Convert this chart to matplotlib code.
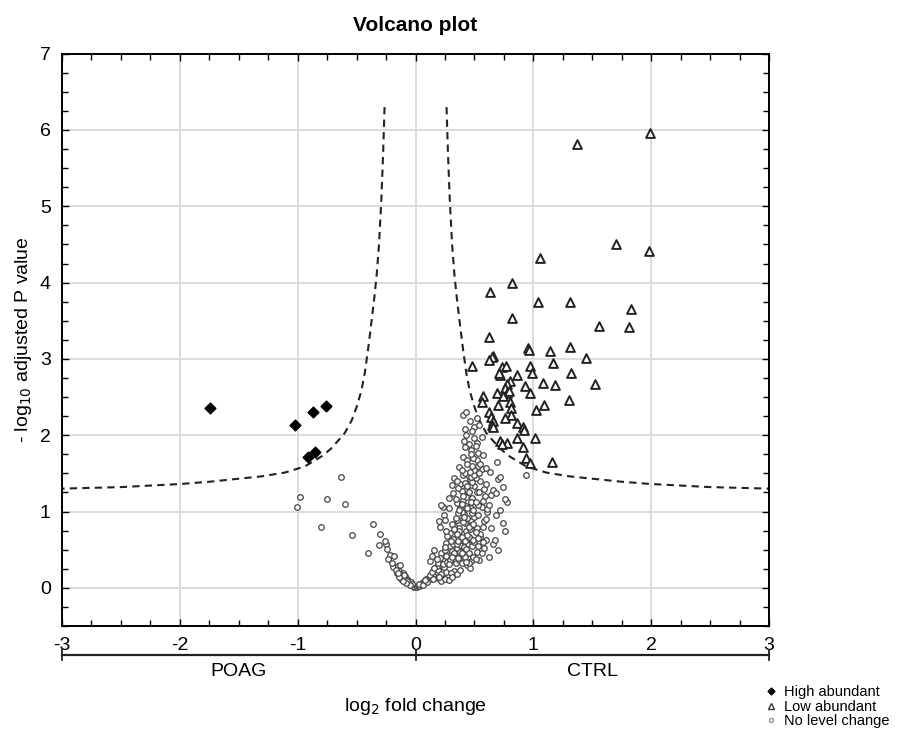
import numpy as np
import matplotlib.pyplot as plt
from matplotlib.lines import Line2D
import matplotlib.transforms as mtransforms

plt.rcParams['font.family'] = ['Liberation Sans', 'DejaVu Sans']
plt.rcParams['axes.unicode_minus'] = False

# High abundant (POAG side), log2 fold change / -log10 adjusted p
high_fc = [-1.74, -1.02, -0.87, -0.76, -0.85, -0.91]
high_p = [2.35, 2.14, 2.30, 2.38, 1.78, 1.71]

# Low abundant (CTRL side)
low_fc = [1.99, 1.37, 1.70, 1.98, 1.06, 0.82, 0.63, 1.04, 1.31, 1.83,
          0.82, 1.56, 1.81, 0.62, 0.95, 0.96, 1.14, 1.31, 0.66, 0.65,
          0.62, 1.45, 0.48, 0.73, 0.77, 0.97, 1.17, 0.72, 0.86, 0.99,
          1.32, 0.80, 0.78, 0.93, 1.08, 1.18, 1.52, 0.76, 0.69, 0.78,
          0.97, 0.74, 0.57, 0.56, 0.80, 0.70, 0.81, 1.02, 1.09, 1.30,
          0.62, 0.81, 0.76, 0.64, 0.66, 0.65, 0.66, 0.86, 0.91, 0.92,
          1.01, 0.86, 0.91, 0.78, 0.72, 0.73, 0.94, 0.97, 1.16, 0.71,
          0.79]
low_p = [5.96, 5.82, 4.50, 4.41, 4.32, 4.00, 3.88, 3.74, 3.75, 3.66,
         3.53, 3.43, 3.42, 3.29, 3.14, 3.12, 3.11, 3.16, 3.04, 3.02,
         2.98, 3.01, 2.91, 2.90, 2.91, 2.91, 2.95, 2.79, 2.79, 2.81,
         2.81, 2.71, 2.67, 2.65, 2.69, 2.66, 2.67, 2.62, 2.55, 2.55,
         2.55, 2.51, 2.51, 2.43, 2.43, 2.40, 2.36, 2.33, 2.39, 2.46,
         2.31, 2.27, 2.22, 2.24, 2.18, 2.14, 2.11, 2.16, 2.11, 2.07,
         1.96, 1.96, 1.85, 1.90, 1.92, 1.89, 1.70, 1.64, 1.65, 2.82,
         2.58]

# No level change
nc_fc = [-0.63, -0.98, -1.01, -0.75, -0.60, -0.80, -0.36, -0.54, -0.30, -0.31,
         -0.40, -0.25, -0.24, -0.22, -0.18, -0.23, -0.19, -0.15, -0.13, -0.16,
         -0.14, -0.12, -0.11, -0.10, -0.09, -0.08, -0.07, -0.06, -0.05, -0.04,
         -0.03, -0.02, -0.01, -0.12, -0.09, -0.06, -0.17, -0.13, -0.10, -0.04,
         -0.02, -0.03, -0.05, -0.07, -0.08, -0.11, -0.14, -0.15, -0.20, -0.26,
         0.01, 0.02, 0.03, 0.04, 0.05, 0.06, 0.07, 0.08, 0.09, 0.10,
         0.11, 0.12, 0.13, 0.14, 0.15, 0.16, 0.17, 0.18, 0.19, 0.20,
         0.03, 0.06, 0.09, 0.12, 0.14, 0.17, 0.21, 0.23, 0.25, 0.27,
         0.33, 0.44, 0.46, 0.26, 0.30, 0.10, 0.15, 0.19, 0.22, 0.08,
         0.22, 0.25, 0.28, 0.31, 0.35, 0.38, 0.24, 0.20, 0.18, 0.16,
         0.19, 0.22, 0.24, 0.26, 0.28, 0.21, 0.25, 0.30, 0.33, 0.35,
         0.23, 0.27, 0.29, 0.31, 0.32, 0.36, 0.38, 0.40, 0.34, 0.37,
         0.52, 0.56, 0.42, 0.44, 0.47, 0.39, 0.41, 0.29, 0.33, 0.26,
         0.31, 0.35, 0.38, 0.43, 0.48, 0.25, 0.28, 0.36, 0.45, 0.50,
         0.12, 0.14, 0.16, 0.18, 0.58, 0.62, 0.66, 0.70, 0.54, 0.60,
         0.45, 0.49, 0.53, 0.57, 0.41, 0.39, 0.43, 0.47, 0.51, 0.55,
         0.29, 0.35, 0.32, 0.37, 0.40, 0.42, 0.45, 0.38, 0.33, 0.30,
         0.36, 0.43, 0.47, 0.49, 0.52, 0.41, 0.44, 0.39, 0.34, 0.31,
         0.67, 0.76, 0.61, 0.55, 0.58, 0.50, 0.46, 0.53, 0.48, 0.27,
         0.40, 0.37, 0.42, 0.44, 0.35, 0.47, 0.39, 0.51, 0.57, 0.20,
         0.21, 0.24, 0.26, 0.28, 0.60, 0.64, 0.68, 0.72, 0.74, 0.56,
         0.33, 0.38, 0.41, 0.45, 0.49, 0.53, 0.36, 0.43, 0.47, 0.25,
         0.37, 0.40, 0.43, 0.46, 0.23, 0.32, 0.22, 0.35, 0.38, 0.41,
         0.44, 0.48, 0.50, 0.53, 0.45, 0.42, 0.39, 0.47, 0.52, 0.55,
         0.78, 0.76, 0.70, 0.72, 0.94, 0.61, 0.58, 0.64, 0.57, 0.60,
         0.36, 0.49, 0.43, 0.51, 0.34, 0.54, 0.40, 0.46, 0.62, 0.66,
         0.28, 0.31, 0.33, 0.63, 0.68, 0.74, 0.56, 0.59, 0.39, 0.42,
         0.45, 0.48, 0.51, 0.37, 0.40, 0.44, 0.47, 0.53, 0.50, 0.35,
         0.50, 0.52, 0.39, 0.40, 0.44, 0.43, 0.52, 0.69, 0.47, 0.55,
         0.48, 0.45, 0.53, 0.42, 0.50, 0.46, 0.57, 0.49, 0.41, 0.51,
         0.60, 0.44, 0.56, 0.47, 0.54,
         0.50, 0.54, 0.46, 0.40, 0.43, 0.48, 0.52, 0.42]
nc_p = [1.45, 1.19, 1.06, 1.16, 1.10, 0.80, 0.83, 0.69, 0.70, 0.56,
        0.46, 0.57, 0.51, 0.43, 0.42, 0.38, 0.27, 0.29, 0.30, 0.19,
        0.22, 0.16, 0.20, 0.13, 0.15, 0.10, 0.12, 0.08, 0.06, 0.05,
        0.04, 0.03, 0.01, 0.12, 0.11, 0.09, 0.24, 0.18, 0.17, 0.07,
        0.02, 0.05, 0.04, 0.09, 0.06, 0.09, 0.14, 0.20, 0.33, 0.61,
        0.01, 0.03, 0.02, 0.05, 0.04, 0.07, 0.06, 0.09, 0.08, 0.11,
        0.13, 0.12, 0.16, 0.15, 0.19, 0.18, 0.22, 0.21, 0.13, 0.25,
        0.05, 0.04, 0.12, 0.17, 0.21, 0.26, 0.29, 0.22, 0.15, 0.15,
        0.22, 0.30, 0.26, 0.21, 0.19, 0.07, 0.11, 0.23, 0.18, 0.10,
        0.09, 0.12, 0.10, 0.14, 0.18, 0.24, 0.27, 0.14, 0.28, 0.26,
        0.33, 0.46, 0.36, 0.59, 0.41, 0.39, 0.50, 0.44, 0.38, 0.52,
        0.31, 0.34, 0.55, 0.48, 0.58, 0.43, 0.56, 0.49, 0.32, 0.36,
        0.47, 0.45, 0.40, 0.57, 0.35, 0.33, 0.53, 0.37, 0.46, 0.42,
        0.40, 0.58, 0.47, 0.51, 0.55, 0.54, 0.31, 0.39, 0.33, 0.60,
        0.35, 0.42, 0.50, 0.38, 0.52, 0.41, 0.58, 0.49, 0.36, 0.63,
        0.45, 0.41, 0.55, 0.60, 0.62, 0.45, 0.34, 0.64, 0.38, 0.67,
        0.72, 0.89, 0.64, 0.78, 0.70, 0.85, 0.67, 0.95, 0.81, 0.62,
        0.61, 0.74, 0.88, 0.63, 0.79, 0.97, 0.69, 0.66, 0.92, 0.83,
        0.63, 0.74, 0.99, 0.71, 0.87, 0.93, 0.77, 0.65, 0.98, 0.68,
        0.86, 0.75, 0.62, 0.91, 0.71, 0.82, 0.99, 0.73, 0.80, 0.87,
        0.80, 0.95, 0.74, 1.05, 0.90, 0.78, 0.96, 1.02, 0.85, 1.06,
        0.77, 1.05, 0.93, 0.80, 0.84, 0.96, 0.98, 1.07, 1.04, 0.89,
        1.02, 1.15, 1.29, 1.42, 1.06, 1.24, 1.08, 1.11, 1.36, 1.21,
        1.05, 1.18, 1.33, 1.09, 1.47, 1.38, 1.27, 1.12, 1.25, 1.40,
        1.13, 1.17, 1.42, 1.45, 1.48, 1.03, 1.30, 1.22, 1.14, 1.36,
        1.31, 1.02, 1.19, 1.44, 1.16, 1.26, 1.48, 1.35, 1.08, 1.28,
        1.18, 1.35, 1.44, 1.52, 1.24, 1.32, 1.56, 1.20, 1.10, 1.50,
        1.26, 1.39, 1.13, 1.58, 1.20, 1.33, 1.45, 1.60, 1.48, 1.40,
        1.55, 1.68, 1.55, 1.72, 1.68, 2.00, 1.90, 1.65, 1.81, 1.62,
        1.59, 1.88, 1.77, 1.84, 1.96, 1.52, 1.74, 1.70, 1.93, 1.86,
        1.57, 1.62, 1.98, 1.76, 1.51,
        2.11, 2.14, 2.18, 2.27, 2.31, 2.05, 2.22, 2.08]

# significance boundary (right arm, mirrored for the left)
bound_fc = [0.263, 0.275, 0.29, 0.31, 0.33, 0.35, 0.373, 0.40, 0.43, 0.46,
            0.50, 0.54, 0.60, 0.65, 0.72, 0.80, 0.94, 1.11, 1.31, 1.50,
            1.75, 2.00, 2.25, 2.50, 2.75, 3.00]
bound_p = [6.30, 5.70, 5.10, 4.50, 4.10, 3.80, 3.50, 3.16, 2.82, 2.58,
           2.37, 2.20, 2.03, 1.94, 1.82, 1.72, 1.59, 1.51, 1.46, 1.43,
           1.39, 1.36, 1.34, 1.32, 1.31, 1.30]

group_labels = ['POAG', 'CTRL']

fig = plt.figure(figsize=(9.02, 7.56), dpi=100)
ax = fig.add_axes([0.0687, 0.172, 0.784, 0.757])

ax.grid(True, color='#d9d9d9', linewidth=1.3, zorder=0)

bx = np.array(bound_fc)
ax.plot(bx, bound_p, color='#222222', linestyle=(0, (3.5, 2.5)), linewidth=1.5, zorder=2)
ax.plot(-bx, bound_p, color='#222222', linestyle=(0, (3.5, 2.5)), linewidth=1.5, zorder=2)

ax.scatter(nc_fc, nc_p, s=16, marker='o', facecolors='white', edgecolors='#444444',
           linewidths=0.9, zorder=3)
ax.scatter(low_fc, low_p, s=40, marker='^', facecolors='white', edgecolors='#222222',
           linewidths=1.4, zorder=4)
ax.scatter(high_fc, high_p, s=30, marker='D', color='black', zorder=5)

ax.set_xlim(-3, 3)
ax.set_ylim(-0.5, 7)
ax.set_xticks(np.arange(-3, 4, 1))
ax.set_yticks(np.arange(0, 8, 1))
ax.set_xticks(np.arange(-3, 3.01, 0.25), minor=True)
ax.set_yticks(np.arange(-0.5, 7.01, 0.25), minor=True)
ax.tick_params(which='both', direction='in', top=True, right=True, width=1.0)
ax.tick_params(which='major', length=5, labelsize=14, pad=8)
ax.tick_params(which='minor', length=4)
for s in ax.spines.values():
    s.set_linewidth(1.4)

ax.set_title('Volcano plot', fontsize=15, fontweight='bold', pad=16)
ax.set_ylabel('- log$_{10}$ adjusted P value', fontsize=14, labelpad=4)

# group bracket under the x axis
trans = mtransforms.blended_transform_factory(ax.transData, ax.transAxes)
yb = -0.051
ax.plot([-3, 3], [yb, yb], color='#222222', linewidth=1.6, transform=trans, clip_on=False)
for xv in [-3, 0, 3]:
    ax.plot([xv, xv], [yb - 0.009, yb + 0.009], color='#222222', linewidth=1.3,
            transform=trans, clip_on=False)
ax.text(-1.5, yb - 0.014, group_labels[0], transform=trans, ha='center', va='top', fontsize=14)
ax.text(1.5, yb - 0.014, group_labels[1], transform=trans, ha='center', va='top', fontsize=14)
ax.text(0, yb - 0.072, 'log$_2$ fold change', transform=trans, ha='center', va='top', fontsize=14)

handles = [
    Line2D([], [], marker='D', color='black', linestyle='none', markersize=3.5),
    Line2D([], [], marker='^', markerfacecolor='white', markeredgecolor='#333333',
           linestyle='none', markersize=4.5),
    Line2D([], [], marker='o', markerfacecolor='white', markeredgecolor='#999999',
           linestyle='none', markersize=3),
]
fig.legend(handles, ['High abundant', 'Low abundant', 'No level change'],
           loc='upper left', bbox_to_anchor=(0.848, 0.094), frameon=False,
           fontsize=10.5, handlelength=0.8, handletextpad=0.5, labelspacing=0.05,
           borderaxespad=0, borderpad=0)

plt.savefig('out.png', dpi=100)
plt.close()
